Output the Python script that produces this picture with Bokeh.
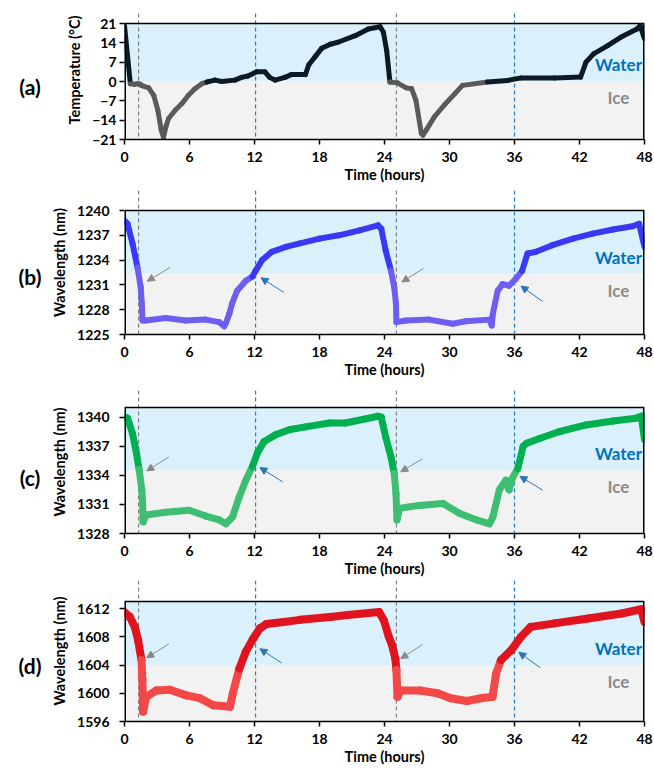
import numpy as np
from bokeh.plotting import figure
from bokeh.layouts import column, row
from bokeh.models import (Range1d, FixedTicker, BoxAnnotation, Label, Arrow,
                          NormalHead, ColumnDataSource, LinearColorMapper, Div)
from bokeh.transform import transform
from bokeh.embed import file_html
from bokeh.resources import INLINE

# ---------------- data ----------------
time_ticks = [0, 6, 12, 18, 24, 30, 36, 42, 48]

temp_t = [0, 0.54, 0.9, 1.2, 1.45, 1.6, 2.23, 2.7, 3.08, 3.39, 3.6, 3.82, 4.07, 4.68, 5.3, 5.9,
          6.5, 7.14, 7.6, 8.36, 8.97, 10.2, 10.8, 11.4, 12.2, 12.96, 13.4, 13.9, 14.8, 15.4,
          16.7, 17.0, 17.6, 18.2, 19.0, 19.7, 21.3, 22.5, 23.6, 23.9, 24.2, 24.5, 25.2, 26.0,
          26.5, 26.9, 27.4, 27.55, 27.85, 28.6, 29.5, 30.5, 31.2, 33.5, 35.4, 36.6, 39.7,
          42.1, 42.6, 43.3, 44.6, 45.8, 47.3, 47.6, 48.0]
temp_v = [20.2, -0.8, -1.0, -0.8, -1.0, -1.5, -2.3, -5.0, -10.4, -17.6, -20.3, -16.4, -13.4,
          -10.4, -8.0, -5.0, -2.6, -0.8, -0.2, 0.5, 0.0, 0.5, 1.5, 2.0, 3.5, 3.5, 1.5, 0.5,
          1.5, 2.5, 2.5, 6.0, 9.0, 12.0, 13.5, 14.2, 16.6, 19.0, 19.8, 17.8, 11.2, -0.2, -0.5,
          -2.3, -2.6, -6.8, -18.8, -19.4, -17.6, -12.8, -8.6, -4.4, -1.4, -0.2, 0.4, 1.3, 1.3,
          1.6, 7.0, 10.0, 13.0, 16.0, 19.0, 20.2, 15.4]

wl1_t = [0, 0.28, 0.74, 1.2, 1.5, 1.6, 1.66, 1.97, 3.8, 5.66, 7.5, 8.74, 9.2, 9.36, 9.67, 9.97,
         10.4, 11.2, 11.8, 12.1, 12.7, 13.6, 14.9, 16.1, 18.0, 19.8, 21.7, 23.4, 23.7, 24.1,
         24.6, 24.9, 25.06, 25.1, 26.0, 28.1, 30.3, 31.5, 33.7, 33.9, 34.0, 34.45, 34.9, 35.5,
         36.1, 36.7, 37.2, 37.98, 39.5, 41.4, 43.2, 45.1, 46.9, 47.5, 48.0]
wl1_v = [1238.8, 1238.4, 1236.0, 1233.1, 1230.7, 1228.7, 1226.7, 1226.7, 1227.0, 1226.7,
         1226.8, 1226.5, 1226.0, 1226.4, 1227.5, 1228.9, 1230.3, 1231.5, 1232.0, 1232.7,
         1234.0, 1235.0, 1235.6, 1236.0, 1236.6, 1237.0, 1237.6, 1238.2, 1237.8, 1235.2,
         1232.7, 1230.7, 1228.7, 1226.5, 1226.7, 1226.8, 1226.3, 1226.6, 1226.8, 1226.1,
         1227.5, 1230.3, 1231.1, 1230.9, 1231.7, 1232.7, 1234.8, 1235.0, 1235.8, 1236.6,
         1237.2, 1237.7, 1238.1, 1238.4, 1235.6]

wl2_t = [0, 0.28, 0.74, 1.1, 1.35, 1.6, 1.66, 1.72, 1.97, 3.8, 5.97, 7.5, 8.74, 9.36, 9.97,
         10.6, 11.2, 11.8, 12.3, 12.9, 13.97, 15.2, 16.7, 18.9, 20.4, 23.4, 23.7, 24.1, 24.6,
         24.9, 25.06, 25.15, 25.4, 27.2, 29.4, 30.9, 32.5, 33.7, 34.0, 34.6, 35.2, 35.5, 35.8,
         36.3, 36.8, 37.1, 38.3, 40.1, 42.6, 45.1, 47.2, 47.7, 48.0]
wl2_v = [1340.0, 1339.9, 1338.3, 1336.3, 1334.6, 1332.5, 1331.4, 1329.2, 1329.9, 1330.2,
         1330.4, 1329.8, 1329.4, 1329.0, 1329.7, 1331.8, 1333.5, 1334.9, 1336.4, 1337.5,
         1338.2, 1338.7, 1339.0, 1339.4, 1339.4, 1340.1, 1340.0, 1338.0, 1335.9, 1334.2,
         1332.1, 1329.4, 1330.6, 1330.9, 1331.1, 1330.1, 1329.4, 1329.0, 1329.7, 1332.5,
         1333.5, 1332.5, 1333.7, 1334.7, 1337.0, 1337.3, 1337.8, 1338.5, 1339.2, 1339.6,
         1339.9, 1340.1, 1337.7]

wl3_t = [0, 0.5, 0.95, 1.26, 1.57, 1.65, 1.72, 2.0, 2.95, 4.2, 5.7, 6.96, 8.2, 9.74, 10.0,
         10.6, 11.2, 11.9, 12.5, 13.1, 14.7, 16.2, 18.98, 20.6, 23.5, 23.95, 24.4, 24.7, 25.0,
         25.1, 25.2, 25.5, 27.3, 28.9, 30.1, 31.6, 32.9, 33.97, 34.3, 34.75, 35.7, 36.6, 37.5,
         39.7, 42.8, 45.9, 47.7, 48.0]
wl3_v = [1611.5, 1610.8, 1609.4, 1607.5, 1604.7, 1601.9, 1597.4, 1599.5, 1600.4, 1600.5,
         1599.7, 1599.3, 1598.3, 1598.1, 1600.0, 1603.5, 1605.9, 1607.8, 1609.2, 1609.8,
         1610.1, 1610.4, 1610.8, 1611.1, 1611.5, 1610.3, 1608.0, 1606.8, 1604.9, 1603.3,
         1599.5, 1600.4, 1600.4, 1600.0, 1599.3, 1598.9, 1599.3, 1599.5, 1602.8, 1604.7,
         1606.1, 1608.0, 1609.4, 1609.9, 1610.6, 1611.3, 1611.9, 1610.1]

# ice/water boundary per panel
thresholds = [0.0, 1232.3, 1334.55, 1604.0]
# event times of the dashed markers (freeze start gray, melt blue)
gray_times = [1.3, 25.1]
blue_times = [12.1, 36.0]

# ---------------- style ----------------
FONT = "Lato"
WATER_BG = "#DAF1FB"
ICE_BG = "#F2F2F2"
WATER_TXT = "#0070C0"
ICE_TXT = "#8C8C8C"
GRAY_LINE = "#7F7F7F"
BLUE_LINE = "#1F7FD0"
ARROW_GRAY = "#8A8A8A"
ARROW_BLUE = "#2E75B6"
DIV_W = 44
FRAME_LEFT = 124


def make_panel(letter, ylabel, t, v, yr, yticks, thr, colors, lw, fig_h, gap_top,
               panel_h, lab_standoff, letter_y, arrows=None, line_top_px=None):
    lo, hi = yr
    span = hi - lo
    top = hi + span * gap_top / panel_h          # frame extends above the panel box
    p = figure(width=654 - DIV_W, height=fig_h, x_range=Range1d(0, 48),
               y_range=Range1d(lo, top),
               output_backend="svg", toolbar_location=None,
               min_border_left=FRAME_LEFT - DIV_W, min_border_right=10,
               min_border_top=0, min_border_bottom=fig_h - gap_top - panel_h)
    p.xgrid.visible = False
    p.ygrid.visible = False
    p.outline_line_color = None
    p.background_fill_color = "white"
    p.border_fill_color = "white"

    for ax in (p.xaxis[0], p.yaxis[0]):
        ax.major_label_text_font = FONT
        ax.major_label_text_font_style = "bold"
        ax.major_label_text_font_size = "14px"
        ax.major_label_text_color = "black"
        ax.axis_label_text_font = FONT
        ax.axis_label_text_font_style = "bold"
        ax.axis_label_text_font_size = "14.5px"
        ax.axis_label_text_color = "black"
        ax.axis_line_color = "black"
        ax.axis_line_width = 1.5
        ax.major_tick_line_color = "black"
        ax.major_tick_line_width = 1.5
        ax.major_tick_out = 5
        ax.major_tick_in = 0
        ax.minor_tick_line_color = None

    p.xaxis.ticker = FixedTicker(ticks=time_ticks)
    p.xaxis.axis_label = "Time (hours)"
    p.xaxis.major_label_standoff = 7
    p.xaxis.axis_label_standoff = 1
    p.yaxis.ticker = FixedTicker(ticks=yticks)
    p.yaxis.axis_label = ylabel
    p.yaxis.major_label_standoff = lab_standoff
    p.yaxis.axis_label_standoff = 6
    p.yaxis.axis_line_color = None

    # ice / water background
    p.add_layout(BoxAnnotation(bottom=thr, top=hi, fill_color=WATER_BG, fill_alpha=1,
                               line_color=None, level="underlay"))
    p.add_layout(BoxAnnotation(bottom=lo, top=thr, fill_color=ICE_BG, fill_alpha=1,
                               line_color=None, level="underlay"))

    # dashed event lines
    y_top = top if line_top_px is None else hi + span * line_top_px / panel_h
    for xt in gray_times:
        p.add_layout(Arrow(start=None, end=None, x_start=xt, x_end=xt, y_start=y_top,
                           y_end=lo, line_color=GRAY_LINE, line_width=1.2,
                           line_dash="4 3", level="underlay"))
    for xt in blue_times:
        p.add_layout(Arrow(start=None, end=None, x_start=xt, x_end=xt, y_start=y_top,
                           y_end=lo, line_color=BLUE_LINE, line_width=1.2,
                           line_dash="4 3", level="underlay"))

    # data line coloured by state
    tt = np.asarray(t, float)
    vv = np.asarray(v, float)
    src = ColumnDataSource(dict(x0=tt[:-1], x1=tt[1:], y0=vv[:-1], y1=vv[1:],
                                ym=(vv[:-1] + vv[1:]) / 2))
    mapper = LinearColorMapper(palette=[colors[1], colors[0]], low=thr - span,
                               high=thr + span, low_color=colors[1], high_color=colors[0])
    p.segment(x0="x0", y0="y0", x1="x1", y1="y1", source=src,
              line_color=transform("ym", mapper), line_width=lw, line_cap="round")

    # panel box border (left/right edges sit on the frame edge, so doubled width)
    p.segment(x0=[0, 48], y0=[lo, lo], x1=[0, 48], y1=[hi, hi],
              line_color="black", line_width=3)
    p.segment(x0=[0], y0=[hi], x1=[48], y1=[hi], line_color="black", line_width=1.5)

    # state labels
    p.add_layout(Label(x=45.6, y=thr, y_offset=17, text="Water", text_color=WATER_TXT,
                       text_font=FONT, text_font_style="bold", text_font_size="17px",
                       text_align="center", text_baseline="middle"))
    p.add_layout(Label(x=45.6, y=thr, y_offset=-16, text="Ice", text_color=ICE_TXT,
                       text_font=FONT, text_font_style="bold", text_font_size="17px",
                       text_align="center", text_baseline="middle"))

    if arrows:
        for (xs, ys, xe, ye, c) in arrows:
            p.add_layout(Arrow(end=NormalHead(size=7, fill_color=c, line_color=c,
                                              line_width=1),
                               x_start=xs, y_start=ys, x_end=xe, y_end=ye,
                               line_color=c, line_width=1))

    div = Div(text=('<div style="position:absolute; left:0px; top:%dpx; width:60px; '
                    'text-align:center; font-family:Lato; font-weight:bold; '
                    'font-size:21px; line-height:24px; color:black;">%s</div>'
                    % (letter_y - 12, letter)),
              width=DIV_W, height=fig_h, styles={"margin": "0px", "padding": "0px",
                                                 "overflow": "visible"})
    return row(div, p, spacing=0)


pa = make_panel("(a)", "Temperature (°C)", temp_t, temp_v, (-21, 21),
                [-21, -14, -7, 0, 7, 14, 21], thresholds[0], ("#0B1A24", "#5A5A5A"), 5,
                190, 23, 116, 3, 87, line_top_px=10)

pb = make_panel("(b)", "Wavelength (nm)", wl1_t, wl1_v, (1225, 1240),
                [1225, 1228, 1231, 1234, 1237, 1240], thresholds[1], ("#3838F5", "#6E5EF0"), 6,
                200, 20, 124, 10, 87,
                arrows=[(4.2, 1233.1, 2.1, 1231.45, ARROW_GRAY),
                        (14.7, 1230.1, 12.6, 1231.85, ARROW_BLUE),
                        (27.6, 1233.0, 25.6, 1231.35, ARROW_GRAY),
                        (38.6, 1229.0, 36.6, 1230.85, ARROW_BLUE)])

pc = make_panel("(c)", "Wavelength (nm)", wl2_t, wl2_v, (1328, 1341),
                [1328, 1331, 1334, 1337, 1340], thresholds[2], ("#00B050", "#3DBE72"), 7,
                190, 17, 126, 10, 88,
                arrows=[(4.1, 1335.9, 2.05, 1334.46, ARROW_GRAY),
                        (14.6, 1333.33, 12.5, 1334.8, ARROW_BLUE),
                        (27.5, 1335.7, 25.5, 1334.36, ARROW_GRAY),
                        (38.6, 1332.47, 36.5, 1333.9, ARROW_BLUE)])

pd_ = make_panel("(d)", "Wavelength (nm)", wl3_t, wl3_v, (1596, 1613),
                 [1596, 1600, 1604, 1608, 1612], thresholds[3], ("#E0141E", "#F24848"), 8,
                 189, 21, 120, 10, 86,
                 arrows=[(4.1, 1607.0, 2.05, 1605.03, ARROW_GRAY),
                         (14.5, 1604.3, 12.5, 1606.3, ARROW_BLUE),
                         (27.5, 1606.9, 25.5, 1604.9, ARROW_GRAY),
                         (38.4, 1603.6, 36.4, 1605.8, ARROW_BLUE)])

layout = column(pa, pb, pc, pd_, spacing=0)
open("out.html", "w").write(file_html(layout, INLINE))
